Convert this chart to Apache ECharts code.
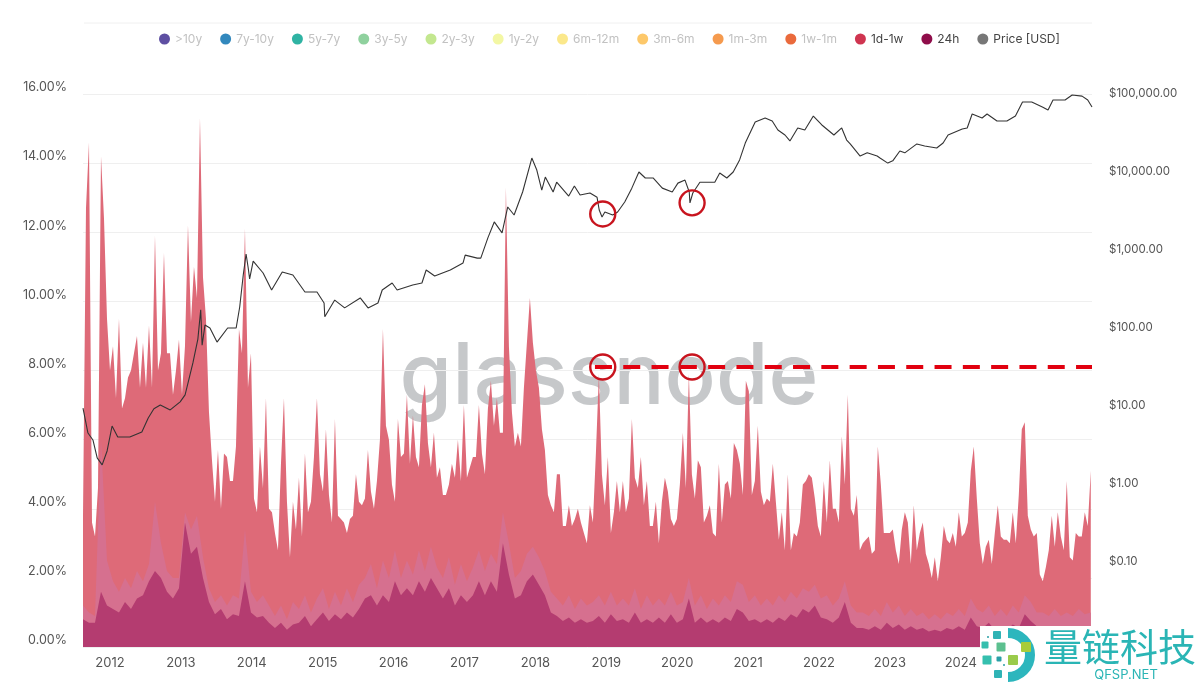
<!DOCTYPE html>
<html>
<head>
<meta charset="utf-8">
<title>Spent volume age bands</title>
<script src="https://cdn.jsdelivr.net/npm/echarts@6/dist/echarts.min.js"></script>
<style>
  html, body { margin: 0; padding: 0; background: #fff; }
  #chart { width: 1200px; height: 686px; }
</style>
</head>
<body>
<div id="chart"></div>
<script>
// axis ticks
var yearTicks = [2012, 2013, 2014, 2015, 2016, 2017, 2018, 2019, 2020, 2021, 2022, 2023, 2024];
var firstYear = 2011.62;
var lastYear = 2025.85;
var sampleStep = 0.0423; // about two weeks between samples

// age band names, the ones without data only show up in the legend
var emptyBands = ['>10y', '7y-10y', '5y-7y', '3y-5y', '2y-3y', '1y-2y', '6m-12m', '3m-6m', '1m-3m', '1w-1m'];
var emptyBandColors = ['#5e4fa2', '#3288bd', '#2fb3a3', '#8fd19e', '#c3e78f', '#f3f7a4', '#fbe88b', '#fdc86a', '#f59a4e', '#ea6a3c'];

// top of the 1d-1w band, %
var weekTop = [
  3.8,12.7,14.6,3.6,3.2,4.6,14.2,12.4,9.5,8.0,
  8.7,7.2,9.5,6.9,7.2,7.8,8.0,8.5,9.0,7.5,
  8.8,7.5,9.3,7.5,11.9,8.0,8.5,11.4,8.5,8.5,
  7.3,8.0,8.9,7.3,8.7,12.2,9.4,11.0,10.1,15.3,
  10.7,9.5,6.8,5.4,4.2,5.7,4.0,5.6,5.5,4.8,
  4.8,5.8,9.2,8.5,12.1,7.5,8.5,4.3,
  3.9,5.8,4.6,7.2,4.0,3.9,3.3,2.8,5.3,7.2,
  4.2,2.6,4.2,3.4,4.9,3.2,5.6,3.9,4.2,5.5,
  7.2,5.0,4.5,6.3,4.4,3.6,6.6,3.8,3.7,3.6,
  3.3,3.7,3.8,5.0,4.2,4.1,4.3,5.7,4.5,4.0,
  4.8,6.0,9.2,6.4,6.0,4.7,4.2,6.6,5.5,5.6,
  7.3,5.3,6.7,5.5,5.2,7.0,
  7.6,5.9,5.2,6.2,4.9,5.2,4.4,4.4,4.7,5.3,
  4.9,6.0,4.8,7.0,4.9,5.2,5.5,5.5,7.0,5.6,
  5.0,6.9,7.7,6.4,7.2,6.2,6.2,13.3,8.7,6.8,
  5.8,6.2,5.8,7.5,8.8,10.1,8.8,8.0,7.5,6.3,
  5.7,4.4,4.1,3.9,5.0,5.0,3.5,3.5,4.1,3.5,
  3.7,4.0,3.6,3.3,3.0,4.1,3.6,
  5.6,7.9,5.0,4.1,5.5,3.3,3.9,4.8,3.9,4.8,
  3.9,4.3,6.6,4.9,4.6,5.5,4.1,4.8,3.5,3.5,
  4.2,3.0,4.2,4.9,4.5,3.7,3.5,3.7,4.7,6.2,
  4.6,7.9,5.0,4.3,5.4,5.2,3.6,3.8,4.1,3.3,
  3.2,5.3,3.6,4.7,4.8,4.3,5.9,5.7,5.3,4.4,
  7.7,7.4,4.4,4.8,6.4,4.5,4.1,
  4.3,4.2,5.3,4.2,3.1,3.9,2.8,5.0,2.8,3.3,
  3.2,3.6,4.7,4.8,5.0,4.9,4.3,3.5,3.2,4.8,
  3.6,5.4,4.0,4.0,3.6,6.1,4.7,7.3,4.0,3.8,
  4.4,2.8,3.0,3.1,3.2,2.7,2.8,5.8,4.7,3.3,
  3.3,3.3,3.4,2.8,2.4,3.4,3.9,3.6,2.4,4.1,
  2.8,3.3,3.6,2.7,2.4,2.0,2.6,
  1.9,2.6,3.5,3.1,3.0,3.3,2.9,3.9,3.2,3.3,
  3.6,5.1,5.8,4.3,3.0,2.4,2.9,3.1,2.4,3.3,
  4.1,3.2,3.1,3.1,3.0,3.9,3.0,4.4,6.3,6.5,
  3.8,3.4,3.2,3.3,2.1,1.9,2.3,2.8,3.8,2.9,
  3.9,3.2,2.8,4.8,2.6,2.5,3.3,3.2,3.2,3.9,
  3.5,5.1
];

// tips of the 24h band (every 2nd sample), %
var dayTips = [
  1.2,1.0,0.9,6.0,2.5,1.9,1.6,2.0,1.7,2.2,
  1.9,2.4,4.2,3.0,2.2,2.0,2.0,3.9,3.4,3.8,
  2.6,1.7,1.3,1.5,1.2,1.5,1.4,3.4,1.6,1.3,
  1.5,1.2,0.9,1.2,0.8,1.3,1.1,1.5,1.0,1.4,
  1.7,1.1,1.6,1.2,1.7,1.3,1.8,2.0,2.4,1.7,
  2.5,2.0,2.8,2.0,2.5,2.1,2.8,2.2,2.9,2.3,
  2.0,2.6,1.8,2.4,1.9,2.3,2.8,2.2,2.7,2.4,
  3.9,3.0,2.0,2.2,2.7,2.9,2.6,2.2,1.6,1.4,
  1.2,1.5,1.1,1.4,1.2,1.3,1.5,1.2,1.6,1.2,
  1.4,1.2,1.7,1.1,1.5,1.2,1.4,1.2,1.6,1.2,
  1.3,2.0,1.2,1.5,1.1,1.4,1.2,1.5,1.3,1.9,
  1.8,1.3,1.5,1.2,1.4,1.2,1.5,1.3,1.6,1.4,
  1.7,1.6,1.8,1.4,1.5,1.2,1.4,1.9,1.2,1.0,
  1.0,0.9,1.1,0.9,1.3,1.0,1.2,0.9,1.1,0.9,
  1.0,0.8,0.95,0.8,1.0,0.9,1.1,0.9,1.4,1.1,
  1.0,1.2,0.9,1.1,0.9,1.2,1.0,1.5,1.3,1.0,
  1.0,0.9,1.1,0.9,1.0,0.9,1.1,0.95,1.0
];

// solid part of the 24h band (every 2nd sample), %
var dayBody = [
  0.8,0.7,0.7,1.6,1.2,1.1,1.0,1.3,1.1,1.4,
  1.5,1.9,2.2,2.0,1.6,1.4,1.7,3.6,2.7,2.9,
  2.0,1.3,0.95,1.1,0.8,0.95,0.9,1.9,1.0,0.85,
  0.9,0.7,0.55,0.7,0.5,0.65,0.7,0.9,0.6,0.8,
  1.0,0.75,0.95,0.8,1.0,0.85,1.1,1.4,1.5,1.2,
  1.5,1.3,1.9,1.5,1.7,1.5,1.9,1.6,2.0,1.7,
  1.4,1.7,1.2,1.5,1.3,1.5,1.9,1.5,1.9,1.6,
  3.0,2.1,1.4,1.5,1.9,2.1,1.8,1.5,1.0,0.9,
  0.75,0.85,0.7,0.8,0.7,0.75,0.9,0.7,0.95,0.75,
  0.8,0.7,1.0,0.7,0.8,0.7,0.85,0.7,0.95,0.7,
  0.8,1.4,0.7,0.85,0.7,0.8,0.7,0.85,0.75,1.1,
  1.0,0.75,0.8,0.7,0.8,0.7,0.85,0.75,0.95,0.85,
  1.1,1.0,1.2,0.85,0.8,0.7,0.85,1.3,0.7,0.55,
  0.55,0.5,0.6,0.5,0.7,0.55,0.65,0.5,0.6,0.5,
  0.55,0.45,0.5,0.45,0.55,0.5,0.6,0.5,0.85,0.6,
  0.55,0.7,0.5,0.6,0.5,0.65,0.55,0.95,0.75,0.6,
  0.55,0.5,0.6,0.5,0.55,0.5,0.6,0.55,0.6
];

// price line, read at its turning points
var priceYears = [
  2011.62,2011.63,2011.69,2011.76,2011.82,2011.89,2011.96,2012.03,2012.11,2012.28,
  2012.45,2012.54,2012.62,2012.71,2012.85,2012.99,2013.06,2013.17,2013.24,2013.28,
  2013.30,2013.34,2013.41,2013.51,2013.66,2013.78,2013.83,2013.88,2013.92,2013.95,
  2013.97,2014.02,2014.16,2014.28,2014.43,2014.58,2014.75,2014.92,2015.02,2015.03,
  2015.17,2015.31,2015.53,2015.64,2015.78,2015.84,2015.98,2016.05,2016.27,2016.40,
  2016.46,2016.58,2016.80,2016.98,2017.01,2017.18,2017.23,2017.33,2017.42,2017.53,
  2017.61,2017.70,2017.82,2017.95,2018.02,2018.09,2018.14,2018.25,2018.30,2018.47,
  2018.55,2018.63,2018.77,2018.87,2018.90,2018.94,2018.98,2019.09,2019.16,2019.26,
  2019.36,2019.46,2019.55,2019.66,2019.79,2019.93,2020.01,2020.11,2020.17,2020.18,
  2020.22,2020.32,2020.53,2020.60,2020.70,2020.79,2020.88,2020.96,2021.10,2021.24,
  2021.34,2021.42,2021.52,2021.59,2021.70,2021.80,2021.92,2022.04,2022.21,2022.32,
  2022.39,2022.44,2022.58,2022.68,2022.82,2022.86,2022.97,2023.04,2023.14,2023.21,
  2023.38,2023.49,2023.66,2023.75,2023.82,2024.02,2024.09,2024.16,2024.30,2024.37,
  2024.51,2024.65,2024.77,2024.87,2025.00,2025.15,2025.23,2025.30,2025.47,2025.57,
  2025.71,2025.79,2025.85
];
var priceUsd = [
  9.4,9.2,4.5,3.67,2.16,1.76,2.65,5.54,4.0,4.0,
  4.64,7.0,9.2,10.3,8.9,11.3,13.9,35.6,72,171,
  60,109,100,66,100,100,186,478,889,588,
  425,720,507,307,522,478,289,289,209,139,
  228,181,243,181,209,307,377,307,355,377,
  554,464,554,682,860,787,787,1430,2290,1660,
  3560,2810,5540,15100,10600,5850,8620,5540,7400,4920,
  6620,5070,5380,4740,3260,2650,3070,2810,3070,4120,
  6210,10000,8380,8380,6210,5540,7200,7870,5540,4010,
  5380,7400,7400,9710,8380,10000,14300,23500,43800,49200,
  45000,34500,29800,25000,36700,34500,52200,40100,29800,36700,
  25700,22900,16000,17600,16000,15100,13000,13900,18600,17600,
  22900,21500,20300,23500,29800,35500,36700,55400,49200,55400,
  45000,45000,52200,78900,78900,68200,62400,83600,83600,97100,
  94000,83600,68200
];

// dashed level and the four hand drawn rings
var levelPercent = 8.1;
var levelYears = [2018.84, 2025.85];
var ringYears = [2018.95, 2020.21, 2018.95, 2020.21];
var ringPercents = [12.53, 12.85, 8.1, 8.1];

function withYears(values, stride) {
  return values.map(function (v, i) {
    return [firstYear + i * stride * sampleStep, v];
  });
}

function band(name, values, stride, fill, dot, z) {
  return {
    name: name,
    type: 'line',
    yAxisIndex: 0,
    data: withYears(values, stride),
    showSymbol: false,
    silent: true,
    z: z,
    lineStyle: { width: 0 },
    itemStyle: { color: dot },
    areaStyle: { color: fill, opacity: 1 }
  };
}

var legendItems = emptyBands.map(function (name) {
  return { name: name, icon: 'circle', textStyle: { color: '#c2c2c2' } };
}).concat(['1d-1w', '24h', 'Price [USD]'].map(function (name) {
  return { name: name, icon: 'circle', textStyle: { color: '#444' } };
}));

var series = emptyBands.map(function (name, i) {
  return { name: name, type: 'line', data: [], itemStyle: { color: emptyBandColors[i] } };
});

series.push(band('1d-1w', weekTop, 1, '#de6a78', '#cf3550', 2));
series.push(band('24h', dayTips, 2, '#d6708f', '#8f0d4a', 3));
series.push(band('24h', dayBody, 2, '#b43c70', '#8f0d4a', 4));

series.push({
  name: 'Price [USD]',
  type: 'line',
  yAxisIndex: 1,
  data: priceYears.map(function (y, i) { return [y, priceUsd[i]]; }),
  showSymbol: false,
  silent: true,
  z: 6,
  itemStyle: { color: '#777' },
  lineStyle: { color: '#333', width: 1.1 }
});

series.push({
  name: 'rings',
  type: 'scatter',
  yAxisIndex: 0,
  symbol: 'circle',
  symbolSize: 25,
  silent: true,
  z: 9,
  data: ringYears.map(function (y, i) { return [y, ringPercents[i]]; }),
  itemStyle: { color: 'rgba(0,0,0,0)', borderColor: '#c8141e', borderWidth: 2.4, opacity: 1 },
  markLine: {
    silent: true,
    symbol: 'none',
    label: { show: false },
    z: 8,
    lineStyle: { color: '#e1000f', width: 4, type: [17, 11.3], opacity: 1 },
    data: [[
      { yAxis: levelPercent, xAxis: levelYears[0] },
      { yAxis: levelPercent, xAxis: levelYears[1] }
    ]]
  }
});

// logo squares in the corner
function square(cx, cy, size, color) {
  return {
    type: 'rect',
    z: 101,
    shape: { x: cx - size / 2, y: cy - size / 2, width: size, height: size, r: 1 },
    style: { fill: color }
  };
}

var chart = echarts.init(document.getElementById('chart'));
chart.setOption({
  animation: false,
  backgroundColor: '#fff',
  textStyle: { fontFamily: 'Inter' },
  grid: { left: 83, top: 94, width: 1009, height: 553 },
  legend: {
    left: 154,
    top: 28,
    itemWidth: 11,
    itemHeight: 11,
    itemGap: 18,
    textStyle: { fontSize: 12, fontFamily: 'Inter' },
    data: legendItems
  },
  xAxis: {
    type: 'value',
    min: firstYear,
    max: lastYear,
    splitLine: { show: false },
    axisLine: { show: false },
    axisTick: { show: false },
    axisLabel: {
      customValues: yearTicks,
      margin: 10,
      color: '#555',
      fontSize: 13,
      formatter: function (v) { return String(v); }
    }
  },
  yAxis: [{
    type: 'value',
    min: 0,
    max: 16,
    interval: 2,
    splitLine: { lineStyle: { color: '#efefef', width: 1 } },
    axisLine: { show: false },
    axisTick: { show: false },
    axisLabel: {
      margin: 16,
      color: '#555',
      fontSize: 12.5,
      verticalAlign: 'bottom',
      formatter: function (v) { return v.toFixed(2) + '%'; }
    }
  }, {
    type: 'log',
    logBase: 10,
    min: 0.00813,
    max: 100000,
    splitLine: { show: false },
    axisLine: { show: false },
    axisTick: { show: false },
    axisLabel: {
      margin: 17,
      padding: [4, 0, 0, 0],
      color: '#555',
      fontSize: 11.5,
      showMinLabel: false,
      formatter: function (v) {
        if (v < 0.09) return '';
        return '$' + v.toLocaleString('en-US', { minimumFractionDigits: 2, maximumFractionDigits: 2 });
      }
    }
  }],
  series: series,
  graphic: [
    // faint top border
    { type: 'line', z: 0, shape: { x1: 84, y1: 23, x2: 1092, y2: 23 }, style: { stroke: '#f0f0f0', lineWidth: 1 } },
    // watermark, sits behind the series
    {
      type: 'text', z: 0, x: 609, y: 378,
      style: { text: 'glassnode', fill: '#c6c8ca', font: '500 85px Inter', textAlign: 'center', textVerticalAlign: 'middle' }
    },
    // logo over the lower right corner
    { type: 'rect', z: 100, shape: { x: 980, y: 626, width: 220, height: 60 }, style: { fill: '#fff' } },
    {
      type: 'arc', z: 101,
      shape: { cx: 1008, cy: 655, r: 22, startAngle: -Math.PI / 2, endAngle: Math.PI / 2 },
      style: { stroke: '#2cb6bd', lineWidth: 10, fill: 'none' }
    },
    square(997, 635, 8, '#2fb3b5'), square(987, 660, 9, '#35bfae'), square(998, 674, 8, '#2fb3b5'),
    square(1001, 647, 9, '#5cc08f'), square(1026, 647, 10, '#a8cc3a'), square(1013, 660, 10, '#9acb4b'),
    square(985, 645, 7, '#35bfae'), square(999, 659, 5, '#2a9fa6'), square(988, 637, 2, '#2a9fa6'), square(1004, 665, 2, '#2a9fa6'),
    {
      type: 'text', z: 101, x: 1120, y: 647,
      style: { text: '量链科技', fill: '#2ab5b5', font: '400 38px "Noto Sans CJK SC"', textAlign: 'center', textVerticalAlign: 'middle' }
    },
    {
      type: 'text', z: 101, x: 1126, y: 675,
      style: { text: 'QFSP.NET', fill: '#2ab5b5', font: '13px Inter', textAlign: 'center', textVerticalAlign: 'middle' }
    }
  ]
});
</script>
</body>
</html>
